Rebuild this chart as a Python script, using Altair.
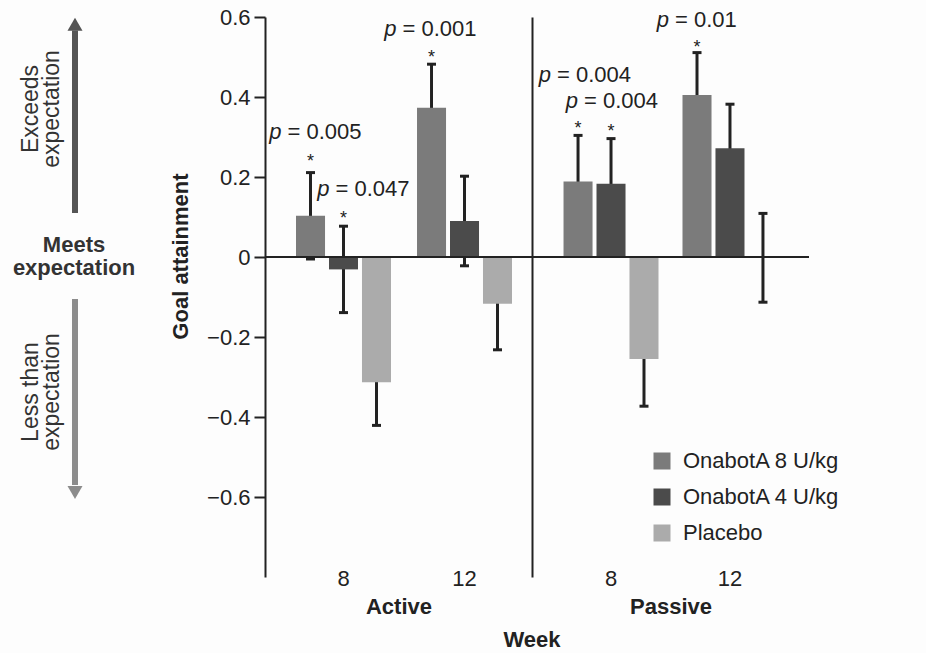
import altair as alt
import pandas as pd

# ---------------- data ----------------
panels = ["Active", "Active", "Passive", "Passive"]
weeks = ["8", "12", "8", "12"]
week_order = ["8", "12"]
series_names = ["OnabotA 8 U/kg", "OnabotA 4 U/kg", "Placebo"]
series_colors = ["#7b7b7b", "#4b4b4b", "#ababab"]

onabot8 = [0.103, 0.373, 0.189, 0.405]
onabot8_err = [0.108, 0.109, 0.115, 0.106]
onabot4 = [-0.031, 0.090, 0.183, 0.272]
onabot4_err = [0.108, 0.112, 0.113, 0.110]
placebo = [-0.313, -0.117, -0.255, -0.002]
placebo_err = [0.108, 0.115, 0.118, 0.111]

# significance annotations
p_panel = ["Active", "Active", "Active", "Passive", "Passive", "Passive"]
p_week = ["8", "8", "12", "8", "8", "12"]
p_series = ["OnabotA 8 U/kg", "OnabotA 4 U/kg", "OnabotA 8 U/kg",
            "OnabotA 8 U/kg", "OnabotA 4 U/kg", "OnabotA 8 U/kg"]
p_values = ["0.005", "0.047", "0.001", "0.004", "0.004", "0.01"]
# label placement offsets (pixels)
p_dx = [-23, -8, -29, -21, -27, -22]
p_dy = [-34, -30, -28, -53, -31, -26]
star_dy = [-6, -2, -1, -1, -2, 0]

# left-hand guide annotations (in goal-attainment units)
guide_text = ["Exceeds\nexpectation", "Less than\nexpectation"]
guide_y = [0.37, -0.3375]
meets_text = ["Meets\nexpectation"]
meets_y = [0.03]
arrow_start = [0.11, -0.105]
arrow_end = [0.566, -0.57]
arrow_head = [0.582, -0.589]
arrow_shape = ["triangle-up", "triangle-down"]
arrow_color = ["#555555", "#8c8c8c"]

INK = "#222222"
FONT = "Liberation Sans"

# --------------- tables ---------------
rows = []
for i in range(4):
    for s, vals, errs in zip(series_names, [onabot8, onabot4, placebo],
                             [onabot8_err, onabot4_err, placebo_err]):
        rows.append(dict(panel=panels[i], week=weeks[i], series=s,
                         value=vals[i], err=errs[i],
                         lo=vals[i] - errs[i], hi=vals[i] + errs[i]))
data = pd.DataFrame(rows)

sig = pd.DataFrame(dict(panel=p_panel, week=p_week, series=p_series,
                        p=p_values, dx=p_dx, dy=p_dy, sdy=star_dy))
sig = sig.merge(data[["panel", "week", "series", "hi"]],
                on=["panel", "week", "series"], how="left")
sig["eq"] = "= " + sig["p"]

guides = pd.DataFrame(dict(label=guide_text, y=guide_y))
meets = pd.DataFrame(dict(label=meets_text, y=meets_y))
arrows = pd.DataFrame(dict(start=arrow_start, end=arrow_end, head=arrow_head,
                           shape=arrow_shape, col=arrow_color))

y_scale = alt.Scale(domain=[-0.8, 0.6], nice=False)


def make_panel(name, width, p_inner, p_outer, align, first):
    d = data[data.panel == name]
    x_axis = alt.Axis(domain=False, ticks=False, tickSize=0, labelAngle=0,
                      labelFontSize=22, labelPadding=1, labelBaseline="middle",
                      labelColor=INK, title=name, titleFontSize=22,
                      titleFontWeight="bold", titleY=29, titleBaseline="middle",
                      titleColor=INK, grid=False)
    if first:
        y_axis = alt.Axis(values=[-0.6, -0.4, -0.2, 0, 0.2, 0.4, 0.6],
                          labelExpr="datum.value == 0 ? '0' : format(datum.value, '.1f')",
                          tickSize=11, tickWidth=2, tickColor=INK,
                          labelFontSize=22, labelPadding=4, labelColor=INK,
                          domainWidth=2, domainColor=INK, grid=False,
                          title="Goal attainment", titleFontSize=22,
                          titleFontWeight="bold", titleColor=INK,
                          titleX=-85, titleY=239, titleAngle=270,
                          titleAlign="center", titleBaseline="middle")
    else:
        y_axis = alt.Axis(labels=False, ticks=False, domainWidth=2,
                          domainColor=INK, grid=False, title="")

    x_enc = alt.X("week:N", sort=week_order,
                  scale=alt.Scale(domain=week_order, paddingInner=p_inner,
                                  paddingOuter=p_outer, align=align),
                  axis=x_axis)
    xo_enc = alt.XOffset("series:N", sort=series_names,
                         scale=alt.Scale(domain=series_names, paddingInner=0.12,
                                         paddingOuter=0))

    def Y(field):
        return alt.Y(f"{field}:Q", scale=y_scale, axis=y_axis)

    base = alt.Chart(d).encode(x=x_enc, xOffset=xo_enc)
    err = base.mark_rule(color=INK, strokeWidth=3).encode(y=Y("lo"), y2="hi:Q")
    cap_lo = base.mark_tick(color=INK, thickness=3, size=9, opacity=1).encode(y=Y("lo"))
    cap_hi = base.mark_tick(color=INK, thickness=3, size=9, opacity=1).encode(y=Y("hi"))

    if first:
        legend = None
    else:
        legend = alt.Legend(orient="none", legendX=119, legendY=433, title=None,
                            symbolType="square", symbolSize=289,
                            symbolStrokeWidth=0, symbolOpacity=1,
                            labelFontSize=22, labelColor=INK, labelFont=FONT,
                            labelOffset=10, rowPadding=14, padding=0)
    bars = base.mark_bar(opacity=1).encode(
        y=Y("value"), y2=alt.datum(0),
        color=alt.Color("series:N", sort=series_names,
                        scale=alt.Scale(domain=series_names, range=series_colors),
                        legend=legend))
    zero = alt.Chart(d).mark_rule(color=INK, strokeWidth=2).encode(y=alt.datum(0))

    layers = [err, cap_lo, cap_hi, bars, zero]

    s = sig[sig.panel == name]
    for _, r in s.iterrows():
        rd = pd.DataFrame([r.to_dict()])
        tb = alt.Chart(rd).encode(x=x_enc, xOffset=xo_enc, y=Y("hi"))
        layers.append(tb.mark_text(align="left", baseline="alphabetic", fontSize=22,
                                   color=INK, dx=float(r.dx), dy=float(r.dy)
                                   ).encode(text="eq:N"))
        layers.append(tb.mark_text(align="right", baseline="alphabetic", fontSize=22,
                                   fontStyle="italic", color=INK,
                                   dx=float(r.dx) - 6, dy=float(r.dy)
                                   ).encode(text=alt.value("p")))
        layers.append(tb.mark_text(align="center", baseline="alphabetic", fontSize=18,
                                   color=INK, dy=float(r.sdy)
                                   ).encode(text=alt.value("*")))

    if first:
        shafts = alt.Chart(arrows).mark_rule(strokeWidth=6).encode(
            x=alt.value(-190), y=Y("start"), y2="end:Q",
            color=alt.Color("col:N", scale=None))
        heads = alt.Chart(arrows).mark_point(filled=True, size=225, opacity=1,
                                              strokeWidth=0).encode(
            x=alt.value(-190), y=Y("head"),
            shape=alt.Shape("shape:N", scale=None),
            color=alt.Color("col:N", scale=None))
        gtext = alt.Chart(guides).mark_text(angle=270, fontSize=23, lineHeight=21,
                                            lineBreak="\n", align="center",
                                            baseline="middle", color="#333333").encode(
            x=alt.value(-234), y=Y("y"), text="label:N")
        mtext = alt.Chart(meets).mark_text(fontSize=22, fontWeight="bold",
                                           lineHeight=23, lineBreak="\n",
                                           align="center", baseline="middle",
                                           color="#333333").encode(
            x=alt.value(-191), y=Y("y"), text="label:N")
        layers += [shafts, heads, gtext, mtext]
    else:
        week_lbl = alt.Chart(pd.DataFrame({"t": ["Week"]})).mark_text(
            fontSize=22, fontWeight="bold", align="center", baseline="middle",
            color=INK).encode(x=alt.value(0), y=alt.value(623), text="t:N")
        layers.append(week_lbl)

    return alt.layer(*layers).properties(width=width, height=560)


p1 = make_panel("Active", 267, 0.215, 0.2107, 0.608, True)
p2 = make_panel("Passive", 277, 0.2017, 0.265, 0.5, False)

chart = alt.hconcat(p1, p2, spacing=0, bounds="flush").resolve_scale(
    color="independent", y="independent", x="independent", xOffset="independent"
).properties(
    padding={"left": 12, "top": 5, "right": 85, "bottom": 8},
    background="#fdfdfd",
).configure(font=FONT).configure_view(stroke="transparent")

chart.save("out.html", embed_options={"renderer": "svg", "actions": False})
